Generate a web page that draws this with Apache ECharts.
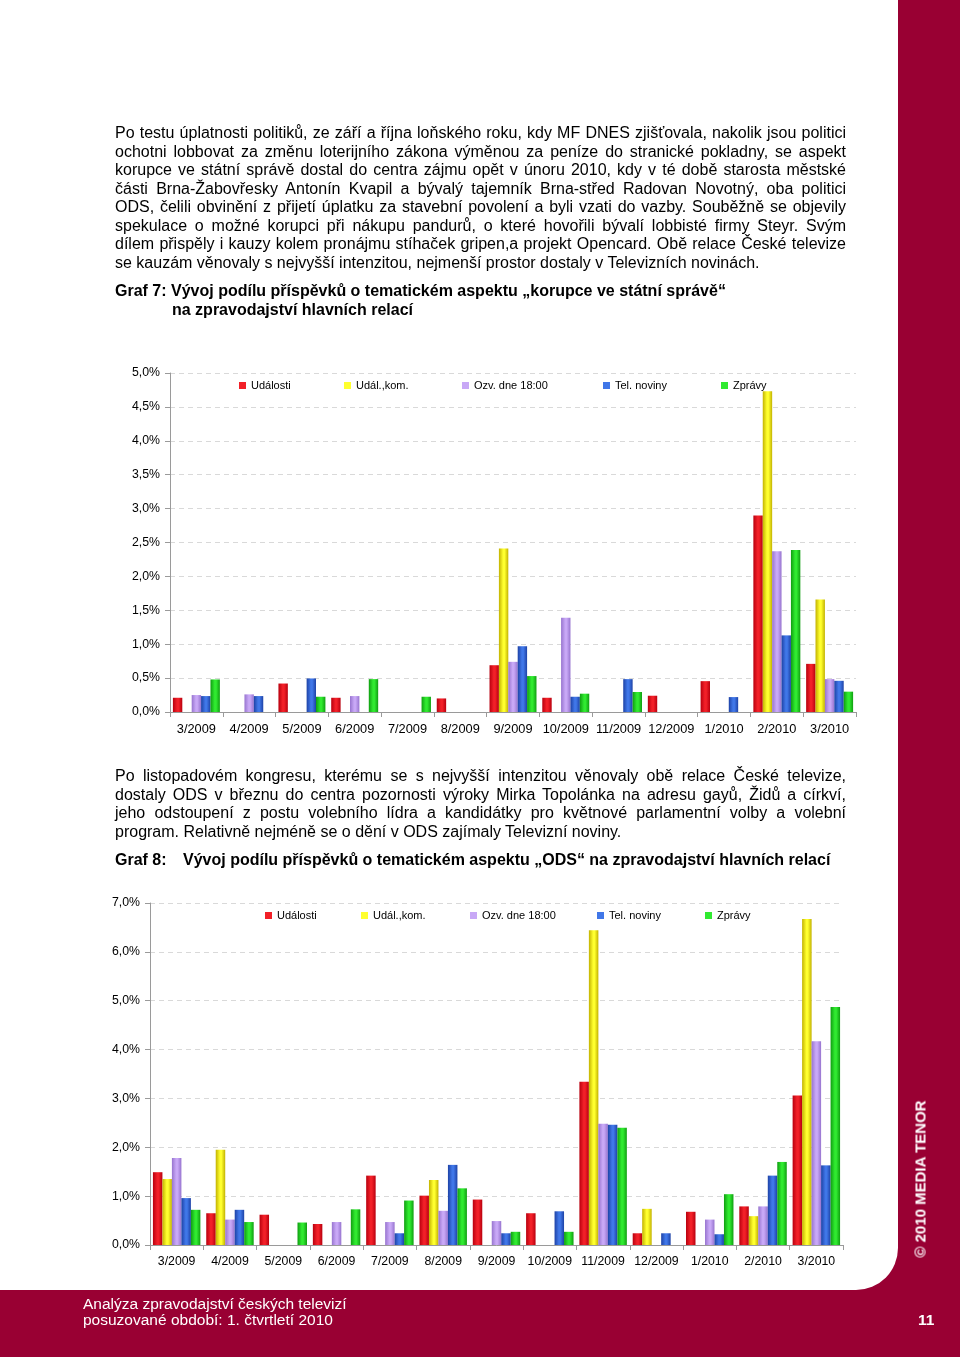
<!DOCTYPE html>
<html>
<head>
<meta charset="utf-8">
<script src="https://cdn.jsdelivr.net/npm/echarts@6/dist/echarts.min.js"></script>
<style>
html,body{margin:0;padding:0;width:960px;height:1357px;overflow:hidden;background:#990033;font-family:"Liberation Sans",Arial,sans-serif;}
#panel{position:absolute;left:0;top:0;width:898px;height:1290px;background:#fff;border-bottom-right-radius:42px;}
#chart{position:absolute;left:0;top:0;width:960px;height:1357px;}
.ln{position:absolute;left:115px;width:731px;font-size:16px;line-height:18px;height:18px;white-space:nowrap;color:#000;text-align:justify;text-align-last:justify;}
.last{text-align:left;text-align-last:left;}
.hd{position:absolute;font-size:16px;line-height:18px;font-weight:bold;white-space:nowrap;color:#000;}
.ft{position:absolute;color:#fff;font-size:15.5px;line-height:16px;white-space:nowrap;}
#side{position:absolute;left:920px;top:1179px;transform:translate(-50%,-50%) rotate(-90deg);color:#fff;font-weight:bold;font-size:15px;white-space:nowrap;}
</style>
</head>
<body>
<div id="panel"></div>
<div id="chart"></div>

<div class="ln" style="top:124px">Po testu úplatnosti politiků, ze září a října loňského roku, kdy MF DNES zjišťovala, nakolik jsou politici</div>
<div class="ln" style="top:143px">ochotni lobbovat za změnu loterijního zákona výměnou za peníze do stranické pokladny, se aspekt</div>
<div class="ln" style="top:161px">korupce ve státní správě dostal do centra zájmu opět v únoru 2010, kdy v té době starosta městské</div>
<div class="ln" style="top:180px">části Brna-Žabovřesky Antonín Kvapil a bývalý tajemník Brna-střed Radovan Novotný, oba politici</div>
<div class="ln" style="top:198px">ODS, čelili obvinění z přijetí úplatku za stavební povolení a byli vzati do vazby. Souběžně se objevily</div>
<div class="ln" style="top:217px">spekulace o možné korupci při nákupu pandurů, o které hovořili bývalí lobbisté firmy Steyr. Svým</div>
<div class="ln" style="top:235px">dílem přispěly i kauzy kolem pronájmu stíhaček gripen,a projekt Opencard. Obě relace České televize</div>
<div class="ln last" style="top:254px">se kauzám věnovaly s nejvyšší intenzitou, nejmenší prostor dostaly v Televizních novinách.</div>

<div class="hd" style="left:115px;top:282px">Graf 7: Vývoj podílu příspěvků o tematickém aspektu „korupce ve státní správě“</div>
<div class="hd" style="left:172px;top:301px">na zpravodajství hlavních relací</div>

<div class="ln" style="top:767px">Po listopadovém kongresu, kterému se s nejvyšší intenzitou věnovaly obě relace České televize,</div>
<div class="ln" style="top:786px">dostaly ODS v březnu do centra pozornosti výroky Mirka Topolánka na adresu gayů, Židů a církví,</div>
<div class="ln" style="top:804px">jeho odstoupení z postu volebního lídra a kandidátky pro květnové parlamentní volby a volební</div>
<div class="ln last" style="top:823px">program. Relativně nejméně se o dění v ODS zajímaly Televizní noviny.</div>

<div class="hd" style="left:115px;top:851px">Graf 8:</div>
<div class="hd" style="left:183px;top:851px">Vývoj podílu příspěvků o tematickém aspektu „ODS“ na zpravodajství hlavních relací</div>

<div id="side">© 2010 MEDIA TENOR</div>
<div class="ft" style="left:83px;top:1296px">Analýza zpravodajství českých televizí</div>
<div class="ft" style="left:83px;top:1312px">posuzované období: 1. čtvrtletí 2010</div>
<div class="ft" style="left:918px;top:1312px;font-weight:bold">11</div>

<script>
// ---- data ----
const months = ['3/2009','4/2009','5/2009','6/2009','7/2009','8/2009','9/2009','10/2009','11/2009','12/2009','1/2010','2/2010','3/2010'];
const seriesNames = ['Události','Udál.,kom.','Ozv. dne 18:00','Tel. noviny','Zprávy'];

// Graf 7: korupce ve státní správě (%)
const korUdalosti = [0.21,0,0.42,0.21,0,0.20,0.69,0.21,0,0.24,0.455,2.90,0.71];
const korUdalKom  = [0,0,0,0,0,0,2.41,0,0,0,0,4.73,1.66];
const korOzvDne   = [0.25,0.26,0,0.235,0,0,0.74,1.39,0,0,0,2.37,0.485];
const korTelNov   = [0.235,0.235,0.495,0,0,0,0.97,0.225,0.485,0,0.22,1.13,0.46];
const korZpravy   = [0.48,0,0.225,0.485,0.225,0,0.53,0.27,0.295,0,0,2.39,0.30];

// Graf 8: ODS (%)
const odsUdalosti = [1.49,0.65,0.62,0.43,1.42,1.01,0.93,0.65,3.34,0.24,0.68,0.79,3.06];
const odsUdalKom  = [1.35,1.95,0,0,0,1.33,0,0,6.44,0.74,0,0.59,6.67];
const odsOzvDne   = [1.78,0.52,0,0.47,0.47,0.70,0.49,0,2.48,0,0.52,0.79,4.17];
const odsTelNov   = [0.96,0.72,0,0,0.24,1.64,0.24,0.69,2.46,0.24,0.22,1.42,1.63];
const odsZpravy   = [0.72,0.47,0.46,0.73,0.91,1.16,0.27,0.27,2.40,0,1.04,1.70,4.87];

const yTicks1 = {min:0, max:5, interval:0.5};
const yTicks2 = {min:0, max:7, interval:1};

// ---- styling ----
const palette = [
  ['#b8000e','#f22028'],
  ['#c2b200','#ffff2e'],
  ['#9774cf','#c8a8f6'],
  ['#1d42a6','#4077e8'],
  ['#0f9e10','#30ea30']
];
function grad(p){
  return new echarts.graphic.LinearGradient(0,0,1,0,[
    {offset:0,color:p[0]},{offset:0.45,color:p[1]},{offset:0.6,color:p[1]},{offset:1,color:p[0]}]);
}
const FONT = '"Liberation Sans", Arial, sans-serif';
const pct = v => v.toFixed(1).replace('.', ',') + '%';

const chart = echarts.init(document.getElementById('chart'), null, {renderer:'canvas'});

const grids = [
  {left:170, top:373, width:686, height:339},
  {left:150, top:903, width:693, height:342}
];
const xFont = [12.8, 12.3];
function xAxis(i){
  return {
    type:'category', gridIndex:i, data:months,
    axisLine:{lineStyle:{color:'#9a9a9a'}},
    axisTick:{show:true, alignWithLabel:false, length:5, lineStyle:{color:'#9a9a9a'}},
    axisLabel:{color:'#000', fontSize:xFont[i], fontFamily:FONT, margin:11, interval:0}
  };
}
function yAxis(i, t){
  return {
    type:'value', gridIndex:i, min:t.min, max:t.max, interval:t.interval,
    axisLine:{show:true, lineStyle:{color:'#9a9a9a'}},
    axisTick:{show:true, length:5, lineStyle:{color:'#9a9a9a'}},
    splitLine:{show:true, lineStyle:{color:'#d9d9d9', type:[5,4]}},
    axisLabel:{color:'#000', fontSize:12.3, fontFamily:FONT, margin:10, formatter:pct}
  };
}
const chart1Data = [korUdalosti, korUdalKom, korOzvDne, korTelNov, korZpravy];
const chart2Data = [odsUdalosti, odsUdalKom, odsOzvDne, odsTelNov, odsZpravy];

const series = [];
[chart1Data, chart2Data].forEach((set, gi) => {
  set.forEach((arr, si) => {
    series.push({
      type:'bar', name:seriesNames[si], xAxisIndex:gi, yAxisIndex:gi,
      data:arr, barGap:'0%', barCategoryGap:'11%',
      itemStyle:{color:grad(palette[si])},
      silent:true, animation:false
    });
  });
});

const legendPos = [
  [239,344,462,603,721],
  [265,361,470,597,705]
];
const legendTop = [380, 910];
const legends = [];
legendPos.forEach((xs, gi) => {
  xs.forEach((x, si) => {
    legends.push({
      data:[{name:seriesNames[si], itemStyle:{color:palette[si][1]}}],
      left:x, top:legendTop[gi], padding:0, itemGap:0,
      itemWidth:7, itemHeight:7, icon:'rect', itemTextGap:3,
      selectedMode:false,
      textStyle:{color:'#000', fontSize:11, fontFamily:FONT}
    });
  });
});

chart.setOption({
  animation:false,
  backgroundColor:'transparent',
  grid:grids,
  xAxis:[xAxis(0), xAxis(1)],
  yAxis:[yAxis(0, yTicks1), yAxis(1, yTicks2)],
  legend:legends,
  series:series
});
</script>
</body>
</html>
